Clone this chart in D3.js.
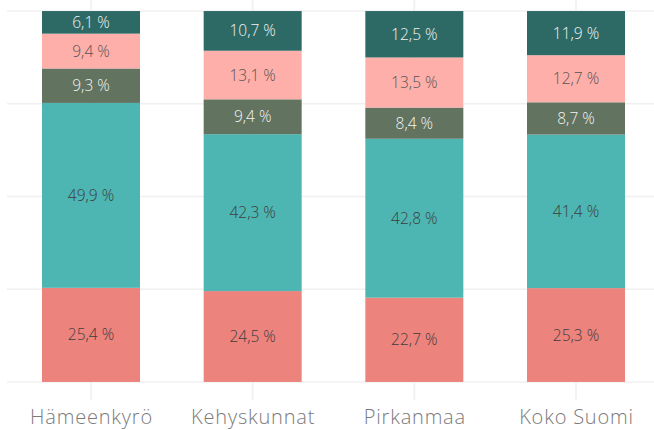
<!DOCTYPE html>
<html><head><meta charset="utf-8">
<script src="https://cdn.jsdelivr.net/npm/d3@7"></script>
<style>html,body{margin:0;padding:0;background:#fff;}svg{display:block;}</style>
</head><body>
<svg id="c" width="654" height="430"></svg>
<script>
const categories = ["Hämeenkyrö", "Kehyskunnat", "Pirkanmaa", "Koko Suomi"];
const seriesKeys = ["s1", "s2", "s3", "s4", "s5"];
const s1 = [25.4, 24.5, 22.7, 25.3];
const s2 = [49.9, 42.3, 42.8, 41.4];
const s3 = [9.3, 9.4, 8.4, 8.7];
const s4 = [9.4, 13.1, 13.5, 12.7];
const s5 = [6.1, 10.7, 12.5, 11.9];
const yTicks = [0, 0.25, 0.5, 0.75, 1];

const colors = {s1:"#EC837D", s2:"#4EB6B2", s3:"#627360", s4:"#FFAFAA", s5:"#2D6A66"};
const labelColors = {s1:"#3d3d3d", s2:"#3d3d3d", s3:"#f2f2f2", s4:"#555", s5:"#f2f2f2"};
const vals = {s1, s2, s3, s4, s5};
const table = categories.map((c, i) => {
  const o = {cat: c};
  seriesKeys.forEach(k => o[k] = vals[k][i]);
  return o;
});

const svg = d3.select("#c");
const x = d3.scalePoint().domain(categories).range([91, 576]);
const y = d3.scaleLinear().domain([-0.05, 1.05]).range([400.5, -7.5]);
const barW = 98;
const font = "'Open Sans', sans-serif";

svg.append("g").selectAll("line").data(yTicks).join("line")
  .attr("x1", 7).attr("x2", 654)
  .attr("y1", d => y(d)).attr("y2", d => y(d))
  .attr("stroke", "#f0f0f0").attr("stroke-width", 1.6);
svg.append("g").selectAll("line").data(categories).join("line")
  .attr("x1", d => x(d)).attr("x2", d => x(d))
  .attr("y1", y(1.05)).attr("y2", y(-0.05))
  .attr("stroke", "#f0f0f0").attr("stroke-width", 1.6);

const stack = d3.stack().keys(seriesKeys).offset(d3.stackOffsetExpand);
const layers = stack(table);

const g = svg.append("g");
layers.forEach(layer => {
  const k = layer.key;
  g.selectAll(null).data(layer).join("rect")
    .attr("x", d => x(d.data.cat) - barW / 2)
    .attr("width", barW)
    .attr("y", d => y(d[1]))
    .attr("height", d => y(d[0]) - y(d[1]))
    .attr("fill", colors[k]);
  g.selectAll(null).data(layer).join("text")
    .attr("x", d => x(d.data.cat))
    .attr("y", d => (y(d[0]) + y(d[1])) / 2)
    .attr("dy", "0.36em")
    .attr("text-anchor", "middle")
    .attr("font-family", font)
    .attr("font-weight", 300)
    .attr("font-size", 15.5)
    .attr("fill", labelColors[k])
    .text(d => d.data[k].toFixed(1).replace(".", ",") + " %");
});

const xAxis = d3.axisBottom(x).tickSize(0).tickPadding(0);
const ax = svg.append("g").attr("transform", "translate(0,424)").call(xAxis);
ax.select(".domain").remove();
ax.selectAll("text").attr("dy", 0).attr("y", 0)
  .attr("font-family", font).attr("font-weight", 300)
  .attr("font-size", 20).attr("letter-spacing", 0.8).attr("fill", "#7a7a7a");
</script>
</body></html>
